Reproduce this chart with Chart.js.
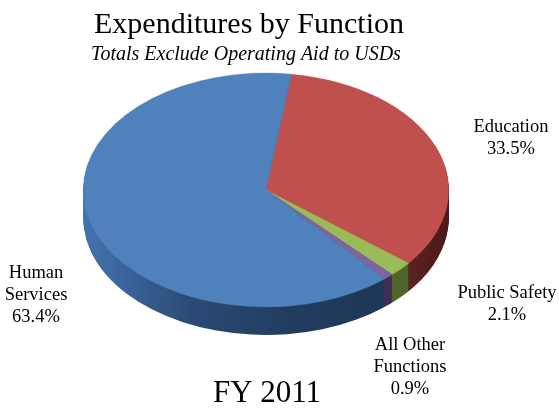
<!DOCTYPE html>
<html>
<head>
<meta charset="utf-8">
<script src="https://cdn.jsdelivr.net/npm/chart.js@4/dist/chart.umd.min.js"></script>
<style>
  html, body { margin: 0; padding: 0; background: #ffffff; }
  #wrap { position: relative; width: 559px; height: 412px; }
</style>
</head>
<body>
<div id="wrap"><canvas id="chart"></canvas></div>
<script>
// Expenditure shares by function, FY 2011 (percent of total)
const categories = ['Education', 'Public Safety', 'All Other Functions', 'Human Services'];
const categoryLines = [['Education'], ['Public Safety'], ['All Other', 'Functions'], ['Human', 'Services']];
const shares = [33.5, 2.1, 0.9, 63.4];

const chartTitle = 'Expenditures by Function';
const chartSubtitle = 'Totals Exclude Operating Aid to USDs';
const yearLabel = 'FY 2011';

// Top-face colours for each slice
const topColors = ['#C0504D', '#9BBB59', '#8064A2', '#4F81BD'];

const serif = '"Liberation Serif", "Times New Roman", Times, serif';

// Draws the pie as a tilted disc: stacked darker copies for the rim, then the squashed top face
const pie3d = {
  id: 'pie3d',
  beforeDatasetsDraw(chart, args, opts) {
    const meta = chart.getDatasetMeta(0);
    if (!meta.data.length) return;
    const ctx = chart.ctx;
    const cx = meta.data[0].x, cy = meta.data[0].y;
    const r = meta.data[0].outerRadius;
    const k = opts.tilt, depth = opts.depth;

    const grad = (stops) => {
      const g = ctx.createLinearGradient(cx - r, 0, cx + r, 0);
      stops.forEach(([p, c]) => g.addColorStop(p, c));
      return g;
    };
    const sideFills = [
      grad([[0, '#7a302e'], [0.8, '#6a2a28'], [1, '#4a1a19']]),
      grad([[0, '#5a7530'], [1, '#4c6428']]),
      grad([[0, '#4a3766'], [1, '#3d2d54']]),
      grad([[0, '#4573ae'], [0.12, '#3a639a'], [0.3, '#2a4a74'], [0.55, '#223d60'], [0.85, '#1e3657'], [1, '#1e3657']])
    ];

    for (let i = depth; i >= 1; i--) {
      ctx.save();
      ctx.translate(0, i);
      ctx.translate(cx, cy); ctx.scale(1, k); ctx.translate(-cx, -cy);
      meta.data.forEach((arc, j) => {
        const proxy = Object.create(arc);
        proxy.options = Object.assign({}, arc.options, {
          backgroundColor: sideFills[j], borderWidth: 0
        });
        arc.draw.call(proxy, ctx);
      });
      ctx.restore();
    }
    ctx.save();
    ctx.translate(cx, cy); ctx.scale(1, k); ctx.translate(-cx, -cy);
  },
  afterDatasetsDraw(chart) {
    chart.ctx.restore();
  }
};

// Titles and slice labels
const pieText = {
  id: 'pieText',
  afterDraw(chart, args, opts) {
    const ctx = chart.ctx;
    ctx.save();
    ctx.fillStyle = '#000000';
    ctx.textAlign = 'center';
    ctx.textBaseline = 'alphabetic';

    ctx.font = '30px ' + serif;
    ctx.fillText(chartTitle, opts.title.x, opts.title.y);
    ctx.font = 'italic 20px ' + serif;
    ctx.fillText(chartSubtitle, opts.subtitle.x, opts.subtitle.y);
    ctx.font = '31px ' + serif;
    ctx.fillText(yearLabel, opts.year.x, opts.year.y);

    ctx.font = '18.5px ' + serif;
    categories.forEach((name, i) => {
      const pos = opts.labels[i];
      const lines = categoryLines[i].concat([shares[i].toFixed(1) + '%']);
      lines.forEach((ln, n) => ctx.fillText(ln, pos.x, pos.y + n * opts.lineHeight));
    });
    ctx.restore();
  }
};

new Chart(document.getElementById('chart'), {
  type: 'pie',
  data: {
    labels: categories,
    datasets: [{
      data: shares,
      backgroundColor: topColors,
      borderColor: topColors,
      borderWidth: 0.5
    }]
  },
  options: {
    responsive: true,
    maintainAspectRatio: false,
    animation: false,
    events: [],
    rotation: 8,
    layout: { padding: { left: 83, right: 110, top: 7, bottom: 39 } },
    plugins: {
      legend: { display: false },
      tooltip: { enabled: false },
      pie3d: { tilt: 0.64, depth: 28 },
      pieText: {
        title: { x: 249, y: 33 },
        subtitle: { x: 246, y: 60 },
        year: { x: 267, y: 402 },
        lineHeight: 22,
        labels: [
          { x: 511, y: 132 },
          { x: 507, y: 298 },
          { x: 410, y: 350 },
          { x: 36, y: 278 }
        ]
      }
    }
  },
  plugins: [pie3d, pieText]
});
</script>
</body>
</html>
